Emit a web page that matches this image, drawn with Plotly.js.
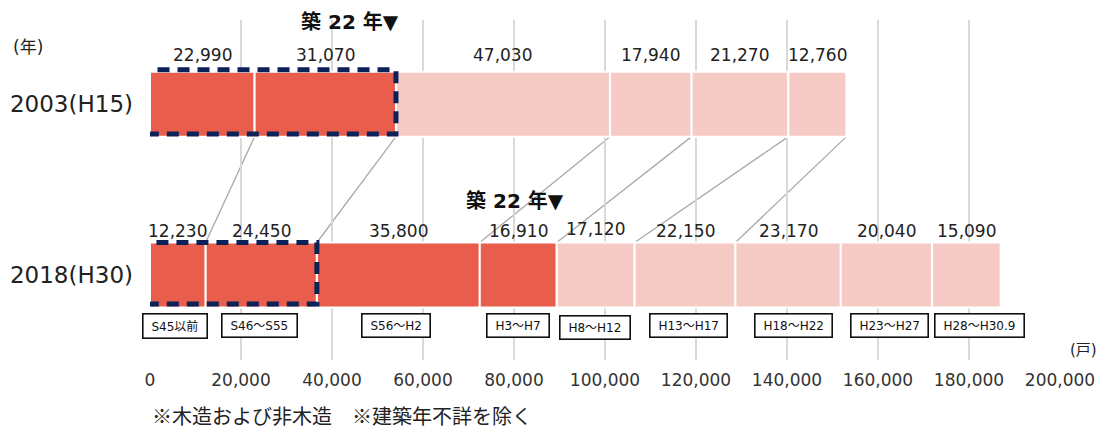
<!DOCTYPE html>
<html>
<head>
<meta charset="utf-8">
<script src="https://cdn.plot.ly/plotly-3.0.1.min.js"></script>
<style>html,body{margin:0;padding:0;background:#fff;}#chart{width:1108px;height:430px;}</style>
</head>
<body>
<div id="chart"></div>
<script>
// ---- data ----
const years = ['2003(H15)', '2018(H30)'];
const periods2003 = ['S45以前', 'S46～S55', 'S56～H2', 'H3～H7', 'H8～H12', 'H13～H15'];
const values2003 = [22990, 31070, 47030, 17940, 21270, 12760];
const periods2018 = ['S45以前', 'S46～S55', 'S56～H2', 'H3～H7', 'H8～H12', 'H13～H17', 'H18～H22', 'H23～H27', 'H28～H30.9'];
const values2018 = [12230, 24450, 35800, 16910, 17120, 22150, 23170, 20040, 15090];
const over22Count2003 = 2;   // segments built 22+ years before survey
const over22Count2018 = 4;
const boxedCount = 2;        // S45以前 and S46～S55 highlighted
const xTickVals = [0, 20000, 40000, 60000, 80000, 100000, 120000, 140000, 160000, 180000, 200000];
const ageLabel = '築 22 年▼';
const unitX = '(戸)';
const unitY = '(年)';
const footnote = '※木造および非木造　※建築年不詳を除く';

// ---- styling ----
const FONT = '"DejaVu Sans", "Noto Sans CJK JP", sans-serif';
const CJK = '"Noto Sans CJK JP", sans-serif';
const DARK = '#E95D4C';
const LIGHT = '#F6CAC5';
const NAVY = '#0C2157';
const HALF = 0.19;
const periodBoxShift = [-3, -2, -2, 0, -1, 3, 5, 3, 13]; // small pixel nudges of period tags

function cum(arr) { const out = [0]; arr.forEach(v => out.push(out[out.length - 1] + v)); return out; }
const c2003 = cum(values2003);
const c2018 = cum(values2018);
const fmt = v => v.toLocaleString('en-US');

// y positions: category index (2018 -> 0, 2003 -> 1)
const Y2003 = 1, Y2018 = 0;

function barTrace(yearLabel, values, cums, darkCount) {
  return {
    type: 'bar', orientation: 'h',
    y: values.map(() => yearLabel),
    x: values,
    base: cums.slice(0, -1),
    width: 2 * HALF,
    marker: { color: values.map((_, i) => i < darkCount ? DARK : LIGHT), line: { color: '#fff', width: 2 } },
    hoverinfo: 'skip', showlegend: false
  };
}
const trace2003 = barTrace(years[0], values2003, c2003, over22Count2003);
const trace2018 = barTrace(years[1], values2018, c2018, over22Count2018);

const annotations = [];
values2003.forEach((v, i) => annotations.push({
  x: c2003[i] + v / 2, y: Y2003, xref: 'x', yref: 'y', text: fmt(v), showarrow: false,
  yshift: 49, font: { family: FONT, size: 17, color: '#222' }
}));
values2018.forEach((v, i) => annotations.push({
  x: c2018[i] + v / 2, y: Y2018, xref: 'x', yref: 'y', text: fmt(v), showarrow: false,
  yshift: i === 4 ? 46 : 44, font: { family: FONT, size: 17, color: '#222' }
}));
periods2018.forEach((p, i) => annotations.push({
  x: c2018[i] + values2018[i] / 2, y: Y2018, xref: 'x', yref: 'y', text: '\u00a0' + p + '\u00a0', showarrow: false,
  xshift: periodBoxShift[i], yshift: (i === 4 ? -53 : -51), font: { family: FONT, size: 12, color: '#111' },
  bordercolor: '#111', borderwidth: 1.6, borderpad: 4, bgcolor: '#fff'
}));
annotations.push({
  x: c2003[over22Count2003], y: Y2003, xref: 'x', yref: 'y', text: ageLabel, showarrow: false,
  xanchor: 'right', xshift: 5, yshift: 82, font: { family: FONT, size: 20, color: '#111', weight: 'bold' }
});
annotations.push({
  x: c2018[over22Count2018], y: Y2018, xref: 'x', yref: 'y', text: ageLabel, showarrow: false,
  xanchor: 'right', xshift: 9, yshift: 74, font: { family: FONT, size: 20, color: '#111', weight: 'bold' }
});
// paper coords: plot area is x 150..1060, y 20..360
annotations.push({ x: (28 - 150) / 910, y: (360 - 47) / 340, xref: 'paper', yref: 'paper', xanchor: 'center', yanchor: 'middle',
  text: unitY, showarrow: false, font: { family: FONT, size: 17, color: '#222' } });
annotations.push({ x: (1083 - 150) / 910, y: (360 - 350) / 340, xref: 'paper', yref: 'paper', xanchor: 'center', yanchor: 'middle',
  text: unitX, showarrow: false, font: { family: FONT, size: 15, color: '#222' } });
annotations.push({ x: 0, y: (360 - 415) / 340, xref: 'paper', yref: 'paper', xanchor: 'left', yanchor: 'middle',
  text: footnote, showarrow: false, font: { family: CJK, size: 20, color: '#222' } });

const shapes = [];
// connector lines between same-period boundaries
for (let i = 1; i < c2003.length; i++) {
  shapes.push({ type: 'line', xref: 'x', yref: 'y', x0: c2003[i], y0: Y2003 - HALF, x1: c2018[i], y1: Y2018 + HALF,
    line: { color: '#aaaaaa', width: 1.3 }, layer: 'below' });
}
// dashed highlight boxes
shapes.push({ type: 'rect', xref: 'x', yref: 'y', x0: -700, x1: c2003[boxedCount], y0: Y2003 - HALF + 0.015, y1: Y2003 + HALF + 0.012,
  line: { color: NAVY, width: 5, dash: '12px,8px' }, fillcolor: 'rgba(0,0,0,0)' });
shapes.push({ type: 'rect', xref: 'x', yref: 'y', x0: -700, x1: c2018[boxedCount], y0: Y2018 - HALF + 0.02, y1: Y2018 + HALF,
  line: { color: NAVY, width: 5, dash: '12px,8px' }, fillcolor: 'rgba(0,0,0,0)' });

const layout = {
  width: 1108, height: 430,
  margin: { l: 150, r: 48, t: 20, b: 70 },
  paper_bgcolor: '#fff', plot_bgcolor: '#fff',
  barmode: 'overlay',
  xaxis: {
    range: [0, 200000], tickvals: xTickVals, tickformat: ',d',
    showgrid: true, gridcolor: '#d9d9d9', gridwidth: 1.5, zeroline: false, showline: false,
    ticks: '', ticklabelstandoff: 8,
    tickfont: { family: FONT, size: 17, color: '#333' }, fixedrange: true
  },
  yaxis: {
    type: 'category', categoryorder: 'array', categoryarray: [years[1], years[0]],
    range: [-0.498, 1.493], showgrid: false, zeroline: false, showline: false, ticks: '',
    ticklabelstandoff: 16,
    tickfont: { family: FONT, size: 23, color: '#222' }, fixedrange: true
  },
  annotations: annotations,
  shapes: shapes,
  showlegend: false
};

Plotly.newPlot('chart', [trace2003, trace2018], layout, { displayModeBar: false, staticPlot: true });
</script>
</body>
</html>
